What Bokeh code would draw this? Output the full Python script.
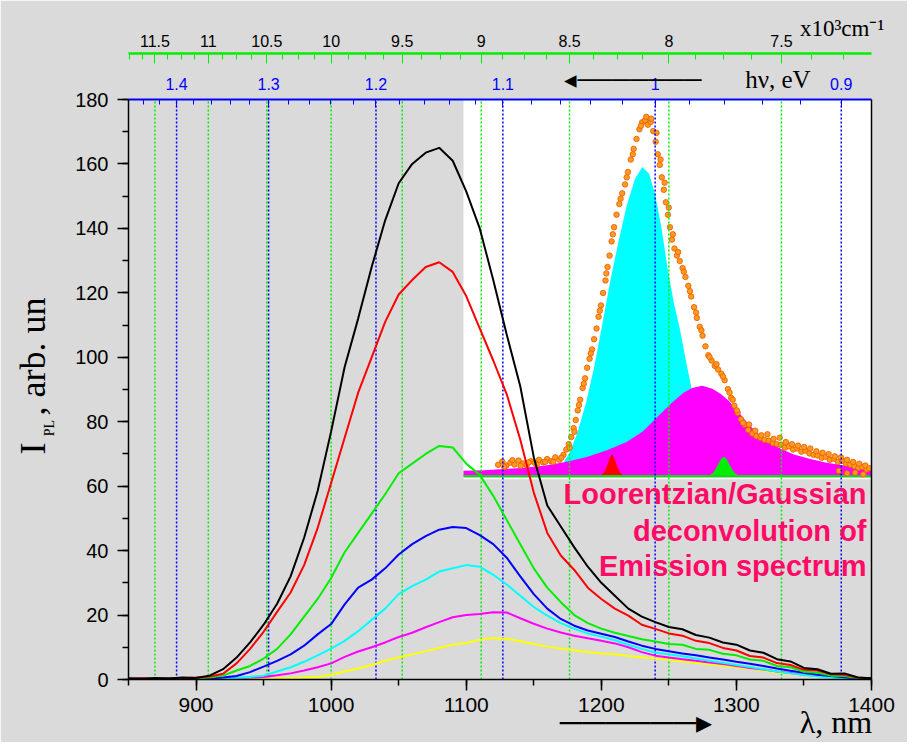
import math
from bokeh.plotting import figure
from bokeh.models import (Range1d, LinearAxis, FixedTicker, SingleIntervalTicker,
                          CustomJSTickFormatter, Label)
from bokeh.embed import file_html
from bokeh.resources import INLINE

# ---------------- data ----------------
wavelength = list(range(850, 1401, 10))  # nm, sampling grid
black = [0.4, 0.2, 0.5, 0.3, 0.6, 0.5, 1.2, 3.2, 6.8, 11.5, 17.0, 23.5, 32.0, 44.0, 58.5, 77.0,
         97.0, 112.0, 128.0, 142.5, 154.0, 160.0, 163.5, 165.0, 161.0, 151.5, 140.0, 124.0, 107.0,
         91.0, 69.0, 54.0, 47.5, 41.0, 35.0, 30.0, 26.0, 22.0, 19.5, 17.8, 16.3, 15.6, 13.8, 13.0,
         11.5, 10.8, 9.0, 8.3, 6.3, 5.6, 3.6, 3.2, 1.8, 1.9, 0.6, 0.4]
red = [0.2, 0.4, 0.2, 0.3, 0.4, 0.6, 0.9, 1.8, 5.0, 9.5, 14.8, 21.0, 27.0, 35.5, 47.0, 61.0,
       75.0, 89.0, 100.0, 111.0, 119.5, 124.0, 128.0, 129.5, 126.5, 119.0, 109.0, 99.0, 88.5,
       74.5, 58.0, 45.5, 38.5, 34.0, 28.5, 25.0, 22.0, 19.8, 17.0, 15.7, 14.3, 13.6, 12.0, 11.3,
       9.8, 9.0, 7.3, 6.8, 5.1, 4.5, 3.0, 2.8, 1.6, 1.5, 0.6, 0.3]
green = [0.2, 0.1, 0.3, 0.2, 0.3, 0.4, 0.6, 1.2, 2.8, 4.2, 6.5, 9.5, 14.0, 19.5, 25.0, 31.5,
         39.5, 45.5, 51.5, 57.5, 64.0, 67.0, 70.0, 72.5, 72.0, 67.0, 63.5, 57.0, 49.5, 42.0,
         34.5, 28.5, 24.0, 20.0, 17.5, 15.8, 14.5, 13.5, 12.5, 11.8, 11.0, 10.8, 9.5, 9.2, 8.0,
         7.5, 6.2, 5.8, 4.2, 3.8, 2.4, 2.1, 1.2, 1.1, 0.5, 0.3]
blue = [0.1, 0.2, 0.1, 0.2, 0.1, 0.2, 0.3, 0.6, 1.1, 2.3, 4.0, 5.8, 7.8, 10.5, 14.0, 17.2,
        23.3, 28.5, 31.0, 34.5, 38.8, 42.0, 44.5, 46.5, 47.3, 47.0, 44.8, 42.0, 37.8, 32.0,
        26.5, 22.0, 18.8, 16.7, 15.2, 14.2, 13.2, 11.8, 10.5, 9.5, 8.8, 8.1, 7.5, 6.8, 6.2,
        5.5, 4.9, 4.2, 3.4, 2.7, 2.1, 1.5, 1.1, 0.7, 0.4, 0.2]
cyan = [0.1, 0.3, 0.1, 0.2, 0.3, 0.2, 0.4, 0.3, 0.5, 0.8, 1.2, 2.5, 3.8, 5.5, 7.5, 9.6,
        12.0, 15.0, 18.5, 22.0, 26.5, 29.0, 31.0, 33.5, 34.5, 35.5, 35.0, 32.5, 29.5, 26.0,
        22.5, 19.8, 17.5, 15.7, 14.3, 13.3, 12.2, 10.8, 9.5, 8.4, 7.8, 7.2, 6.5, 5.8, 5.2,
        4.5, 3.9, 3.2, 2.5, 1.9, 1.4, 1.0, 0.6, 0.3, 0.2, 0.1]
magenta = [0.1, 0.2, 0.1, 0.3, 0.2, 0.3, 0.4, 0.3, 0.5, 0.6, 0.8, 1.3, 1.9, 2.8, 3.8, 5.0,
           7.0, 8.7, 10.0, 11.5, 13.2, 14.5, 16.2, 17.8, 19.3, 20.0, 20.3, 20.9, 20.8, 19.0,
           17.3, 15.8, 14.6, 13.6, 12.8, 12.0, 11.2, 10.0, 8.5, 7.4, 6.8, 6.3, 5.8, 5.3, 4.8,
           4.2, 3.6, 3.1, 2.5, 2.0, 1.5, 1.1, 0.8, 0.6, 0.4, 0.3]
yellow = [0.1, 0.1, 0.2, 0.1, 0.2, 0.2, 0.3, 0.2, 0.3, 0.4, 0.3, 0.4, 0.5, 0.6, 0.8, 1.5,
          2.5, 3.4, 4.5, 5.8, 6.8, 7.8, 8.8, 9.8, 10.8, 11.3, 12.3, 12.9, 12.6, 11.9, 11.0,
          10.2, 9.6, 9.0, 8.5, 8.1, 7.8, 7.3, 6.9, 6.5, 6.1, 5.6, 5.2, 4.7, 4.3, 3.8, 3.3,
          2.8, 2.2, 1.8, 1.4, 1.0, 0.7, 0.5, 0.3, 0.2]
series = [(black, "#000000"), (red, "#ff0000"), (green, "#00ee00"), (blue, "#0000ff"),
          (cyan, "#00ffff"), (magenta, "#ff00ff"), (yellow, "#ffff00")]

# top axes tick values
ev_major = [0.9, 1.0, 1.1, 1.2, 1.3, 1.4]
wn_major = [7.5, 8.0, 8.5, 9.0, 9.5, 10.0, 10.5, 11.0, 11.5]  # x10^3 cm^-1

# inset (deconvolution), inset units
cyan_x = [20, 22, 24, 26, 28, 30, 32, 34, 36, 38, 40, 42, 43.8, 45.5, 47, 48.5, 50, 51.5, 53,
          54.5, 56, 58, 60, 62, 64, 66, 68]
cyan_y = [0.5, 1.2, 3.0, 6.5, 12.5, 20.5, 30.5, 42.5, 55, 66, 76, 83.5, 86.9, 85, 79, 70, 58.5,
          49, 41.5, 32.5, 24, 15.5, 9, 4.8, 2.2, 0.8, 0.2]
mag_x = [0, 5, 10, 15, 20, 25, 30, 35, 40, 44, 48, 51, 54, 56, 58.5, 61, 63, 65, 67, 69, 71, 73,
         75, 78, 81, 85, 89, 93, 97, 100]
mag_y = [1.5, 1.7, 2.0, 2.4, 3.0, 4.0, 5.3, 7.2, 9.6, 12.6, 17.2, 20.6, 23.5, 24.8, 25.4, 24.6,
         23.2, 21.2, 18.6, 15.8, 13.3, 11.2, 9.5, 7.6, 6.1, 4.8, 3.8, 3.1, 2.5, 2.1]
redpk_x = [33.5, 34.5, 35.3, 35.9, 36.4, 36.9, 37.5, 38.3, 39.3]
redpk_y = [0, 1.2, 3.3, 5.3, 6.2, 5.3, 3.3, 1.2, 0]
grnpk_x = [60.0, 61.2, 62.2, 63.1, 63.8, 64.5, 65.4, 66.4, 67.6]
grnpk_y = [0, 1.0, 2.8, 4.8, 5.5, 4.8, 2.8, 1.0, 0]
base_x = [0, 100]
base_y = [0, 0]
dots_x = [8.5, 9.5, 10.5, 11.5, 12.5, 13.5, 14.5, 15.5, 16.5, 17.5, 18.5, 19.5, 20.5, 21.5, 22.5,
          23.5, 24.5, 25.2, 25.8, 26.4, 27.0, 27.5, 28.0, 28.6, 29.2, 29.8, 30.3, 30.9, 31.5,
          32.0, 32.6, 33.1, 33.7, 34.2, 34.8, 35.3, 35.8, 36.3, 36.9, 37.5, 38.2, 38.9, 39.6,
          40.3, 41.0, 41.7, 42.4, 43.1, 43.8, 44.5, 45.2, 45.9, 46.5, 47.1, 47.6, 48.1, 48.6,
          49.1, 49.6, 50.1, 50.6, 51.1, 51.7, 52.3, 53.0, 53.7, 54.4, 55.1, 55.8, 56.5, 57.2,
          57.9, 58.6, 59.3, 60.0, 60.8, 61.6, 62.4, 63.2, 64.0, 64.8, 65.6, 66.4, 67.2, 68.0,
          68.9, 69.8, 70.8, 71.8, 72.8, 73.8, 74.8, 75.8, 76.8, 77.8, 78.8, 79.8, 80.8, 81.8,
          82.8, 83.8, 84.8, 85.8, 86.8, 87.8, 88.8, 89.8, 90.8, 91.8, 92.8, 93.8, 94.8, 95.8,
          96.8, 97.8, 98.8,
          10, 12, 14, 16, 18, 20, 22, 24, 26, 27.2, 28.3, 29.5, 31.2, 33.4, 35, 36.6, 38.5, 40,
          41.5, 43.5, 44.8, 46, 47.3, 48.3, 49.3, 50.3, 51.3, 52.6, 54, 55.5, 57, 58.3, 60.3, 62,
          63.6, 65.2,
          66, 67, 68.5, 70, 71.5, 73, 74.5, 76, 77.5, 79, 80.5, 82, 83.5, 85, 86.5, 88, 89.5, 91,
          92.5, 94, 95.5, 97, 98.5, 99.5, 92, 94, 96, 98]
dots_y = [3.2, 4.1, 3.0, 3.8, 3.3, 4.4, 3.6, 3.1, 4.2, 3.7, 4.6, 3.9, 4.8, 4.2, 5.3, 4.6, 6.0,
          7.5, 9.0, 11.0, 13.5, 15.8, 18.5, 21.5, 24.8, 27.5, 30.5, 33.0, 35.6, 38.5, 41.5, 44.8,
          48.0, 51.5, 55.0, 58.8, 62.0, 66.0, 70.0, 73.5, 76.5, 79.5, 82.0, 85.5, 89.0, 92.0,
          94.8, 97.5, 99.5, 100.0, 98.8, 99.6, 97.0, 94.0, 90.5, 87.5, 84.0, 80.5, 77.0, 73.5,
          70.0, 66.5, 64.0, 62.0, 60.5, 58.5, 56.0, 53.5, 50.5, 47.5, 44.5, 42.0, 39.5, 36.5,
          34.0, 32.5, 31.0, 30.0, 28.8, 27.0, 24.5, 22.0, 19.8, 17.8, 16.0, 14.5, 13.0, 12.0,
          11.2, 10.8, 10.2, 10.0, 9.3, 9.0, 8.8, 8.0, 8.4, 7.5, 7.8, 6.9, 7.2, 6.4, 6.0, 5.8,
          5.2, 5.5, 4.6, 4.9, 4.0, 4.3, 3.5, 3.2, 2.8, 2.4, 2.6, 1.9,
          2.6, 4.5, 2.9, 3.9, 3.2, 4.0, 4.0, 5.2, 8, 12.5, 20, 26, 34.5, 46.5, 57, 68, 78, 84,
          90.5, 98.5, 101, 100.5, 96.5, 89, 82.5, 75.5, 68, 63, 57.5, 52, 46, 41, 33.5, 31.5,
          28, 23.5,
          21.5, 18.5, 15, 14.5, 12.8, 11.5, 11.8, 10.5, 10.8, 9.6, 9.0, 8.6, 8.2, 7.8, 7.0, 6.6,
          6.2, 5.6, 5.3, 4.6, 4.0, 3.5, 3.0, 2.2, 1.5, 0.8, 1.0, 0.5]

# ---------------- layout ----------------
W, H = 907, 742
FL, FR, FT, FB = 128, 871, 99, 681          # frame edges in figure px
X0, X1, Y0, Y1 = 850, 1400, 0, 180


def lx(px):
    return X0 + (px - FL) * (X1 - X0) / (FR - FL)


def ly(py):
    return Y0 + (FB - py) * (Y1 - Y0) / (FB - FT)


BG = "#dadada"
SANS = "Liberation Sans"
SERIF = "Liberation Serif"
NB = "\u00a0"
HL = "\u2500"

p = figure(width=W, height=H, x_range=Range1d(X0, X1), y_range=Range1d(Y0, Y1),
           output_backend="svg", toolbar_location=None, title=None,
           min_border_left=FL, min_border_right=W - FR, min_border_top=FT, min_border_bottom=H - FB,
           background_fill_color=BG, border_fill_color=BG, outline_line_color=None)
p.xgrid.visible = False
p.ygrid.visible = False

# inset ranges: inset x 0..100 spans px 463..871; inset y 0 at py 477, 100 at py 120
ix_s = (FL - 463) * 100 / (FR - 463)
iy_s = (477 - FB) * 100 / (477 - 120)
iy_e = (477 - FT) * 100 / (477 - 120)
p.extra_x_ranges = {"ix": Range1d(ix_s, 100)}
p.extra_y_ranges = {"iy": Range1d(iy_s, iy_e)}
kw = dict(x_range_name="ix", y_range_name="iy")

p.quad(left=0, right=100, bottom=(477 - 480) * 100 / 357, top=iy_e, fill_color="white",
       line_color=None, **kw)
p.varea(x=cyan_x, y1=0, y2=cyan_y, fill_color="#00ffff", **kw)
p.varea(x=mag_x, y1=0, y2=mag_y, fill_color="#ff00ff", **kw)
p.varea(x=redpk_x, y1=0, y2=redpk_y, fill_color="#ff0000", **kw)
p.varea(x=grnpk_x, y1=0, y2=grnpk_y, fill_color="#00ee00", **kw)
p.line(base_x, base_y, line_color="#22cc22", line_width=2.5, **kw)
p.scatter(dots_x, dots_y, size=5.5, fill_color="#ff9a1f", line_color="#e85a00", line_width=0.8,
          **kw)

# dotted reference lines at the top-axis major ticks
ev_wl = [1239.84 / e for e in ev_major]
wn_wl = [1e4 / k for k in wn_major]
p.segment(x0=wn_wl, x1=wn_wl, y0=[Y0] * len(wn_wl), y1=[Y1] * len(wn_wl),
          line_color="#00ee00", line_width=1.5, line_dash="2 2")
p.segment(x0=ev_wl, x1=ev_wl, y0=[Y0] * len(ev_wl), y1=[Y1] * len(ev_wl),
          line_color="#0000ff", line_width=1.5, line_dash="2 2")

# spectra
for ys, col in reversed(series):
    p.line(wavelength, ys, line_color=col, line_width=2)

# ---------------- axes ----------------
xa = p.xaxis[0]
xa.ticker = SingleIntervalTicker(interval=100, num_minor_ticks=2)
ya = p.yaxis[0]
ya.ticker = SingleIntervalTicker(interval=20, num_minor_ticks=2)
for a in (xa, ya):
    a.axis_line_width = 1.5
    a.major_tick_out = 11
    a.major_tick_in = 0
    a.minor_tick_out = 6
    a.minor_tick_in = 0
    a.major_tick_line_width = 1.5
    a.minor_tick_line_width = 1.5
    a.major_label_text_font = SANS
    a.major_label_text_color = "black"
    a.axis_label_text_font = SERIF
    a.axis_label_text_font_style = "normal"
    a.axis_label_text_color = "black"
    a.axis_label_standoff_mode = "axis"
    a.axis_label_align = "center"
xa.major_label_text_font_size = "21px"
xa.major_label_standoff = 7
ya.major_label_text_font_size = "20px"
ya.major_label_standoff = 9

# x label with arrow (leading no-break spaces move it to the right end)
xa.axis_label = NB * 54 + HL * 6 + "\u25b8" + NB * 11 + "\u03bb, nm"
xa.axis_label_text_font_size = "32px"
xa.axis_label_standoff = 24

# y label: subscript "PL" on the main axis, main text on a second (bare) axis
ya.axis_label = "PL" + NB * 22
ya.axis_label_text_font_size = "14px"
ya.axis_label_standoff = 72

ya2 = LinearAxis(ticker=FixedTicker(ticks=[]), axis_line_alpha=0, major_tick_out=0,
                 major_tick_in=0, minor_tick_out=0, minor_tick_in=0,
                 axis_label=NB * 3 + "I" + NB * 3 + ", arb. un", axis_label_text_font=SERIF,
                 axis_label_text_font_style="normal", axis_label_text_font_size="36px",
                 axis_label_align="center", axis_label_standoff_mode="axis",
                 axis_label_standoff=-14, axis_label_text_color="black")
p.add_layout(ya2, "left")

ra = LinearAxis(ticker=FixedTicker(ticks=[]), axis_line_width=1.5, major_tick_out=0,
                major_tick_in=0, minor_tick_out=0, minor_tick_in=0)
p.add_layout(ra, "right")

ev_minor = [round(0.9 + 0.02 * i, 2) for i in range(28)]
wn_minor = [7.25 + 0.125 * i for i in range(37)]
blue_axis = LinearAxis(
    ticker=FixedTicker(ticks=ev_wl, minor_ticks=[1239.84 / e for e in ev_minor]),
    formatter=CustomJSTickFormatter(code="return String(Math.round(1239.84/tick*100)/100)"),
    axis_line_color="#0000ff", axis_line_width=2,
    major_tick_line_color="#0000ff", minor_tick_line_color="#0000ff",
    major_tick_in=8, major_tick_out=0, minor_tick_in=5, minor_tick_out=0,
    major_label_text_color="#0000ff", major_label_text_font=SANS,
    major_label_text_font_size="16px", major_label_standoff=10,
    axis_label=NB * 60 + "\u25c2" + HL * 7 + NB * 7 + "h\u03bd, eV",
    axis_label_text_font=SERIF, axis_label_text_font_style="normal",
    axis_label_text_font_size="25px", axis_label_text_color="black",
    axis_label_align="center", axis_label_standoff_mode="axis", axis_label_standoff=7)
# spacer between the two top axes (no ticks, blank label)
pad_axis = LinearAxis(ticker=FixedTicker(ticks=[]), axis_line_alpha=0, major_tick_out=0,
                      major_tick_in=0, minor_tick_out=0, minor_tick_in=0,
                      axis_label=NB, axis_label_text_font_size="6px",
                      axis_label_standoff=0, axis_label_standoff_mode="axis")
green_axis = LinearAxis(
    ticker=FixedTicker(ticks=wn_wl, minor_ticks=[1e4 / k for k in wn_minor]),
    formatter=CustomJSTickFormatter(code="return String(Math.round(1e4/tick*10)/10)"),
    axis_line_color="#00ee00", axis_line_width=2.5,
    major_tick_line_color="#00ee00", minor_tick_line_color="#00ee00",
    major_tick_in=10, major_tick_out=0, minor_tick_in=6, minor_tick_out=0,
    major_label_text_color="black", major_label_text_font=SANS,
    major_label_text_font_size="16px", major_label_standoff=7,
    axis_label=NB * 119 + "x10\u00b3cm\u207b\u00b9", axis_label_text_font=SERIF,
    axis_label_text_font_style="normal", axis_label_text_font_size="23px",
    axis_label_text_color="black", axis_label_align="center",
    axis_label_standoff_mode="axis", axis_label_standoff=13)
p.add_layout(blue_axis, "above")
p.add_layout(pad_axis, "above")
p.add_layout(green_axis, "above")

# ---------------- inset caption ----------------
pink = "#ff0a66"
for txt, py in (("Loorentzian/Gaussian", 495), ("deconvolution of", 532),
                ("Emission spectrum", 567)):
    p.add_layout(Label(x=lx(866), y=ly(py), text=txt, text_font=SANS, text_font_size="29px",
                       text_font_style="bold", text_color=pink, text_align="right",
                       text_baseline="middle"))

open("out.html", "w").write(file_html(p, INLINE))
